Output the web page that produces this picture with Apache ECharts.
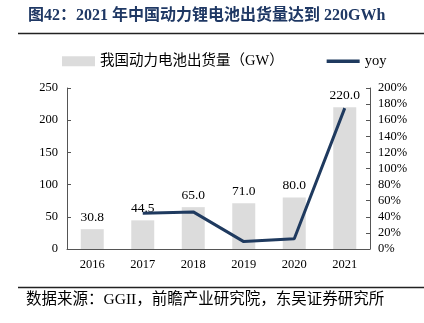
<!DOCTYPE html>
<html>
<head>
<meta charset="utf-8">
<script src="https://cdn.jsdelivr.net/npm/echarts@6/dist/echarts.min.js"></script>
<style>
  html, body { margin: 0; padding: 0; background: #fff; }
  #chart { width: 424px; height: 323px; }
</style>
</head>
<body>
<div id="chart"></div>
<script>
// Chinese power battery shipments (GW) and year-on-year growth
const years = ['2016', '2017', '2018', '2019', '2020', '2021'];
const shipments = [30.8, 44.5, 65.0, 71.0, 80.0, 220.0];
const yoy = [null, 44.5, 46.1, 9.2, 12.7, 175.0];
const leftTicks = { min: 0, max: 250, interval: 50 };
const rightTicks = { min: 0, max: 200, interval: 20 };

const serif = '"Liberation Serif", "Times New Roman", serif';
const cjk = '"Liberation Serif", "Noto Sans CJK SC", serif';
const navy = '#1f3a5f';

const chart = echarts.init(document.getElementById('chart'));
chart.setOption({
  animation: false,
  backgroundColor: '#fff',
  textStyle: { fontFamily: serif, color: '#000' },
  grid: { left: 67, right: 54, top: 88, bottom: 74 },
  legend: {
    top: 49,
    left: 57,
    itemGap: 43,
    itemWidth: 33,
    itemHeight: 10,
    textStyle: { fontFamily: cjk, fontSize: 14.5, color: '#000' },
    data: [
      { name: '我国动力电池出货量（GW）', icon: 'rect' },
      { name: 'yoy', icon: 'path://M0,0 L10,0 L10,1 L0,1 Z' }
    ]
  },
  xAxis: {
    type: 'category',
    data: years,
    axisLine: { lineStyle: { color: '#555', width: 1 } },
    axisTick: { inside: true, length: 4, lineStyle: { color: '#555' } },
    axisLabel: { fontFamily: serif, fontSize: 12.5, color: '#000', margin: 9 }
  },
  yAxis: [
    {
      type: 'value',
      min: leftTicks.min, max: leftTicks.max, interval: leftTicks.interval,
      axisLine: { show: true, lineStyle: { color: '#555' } },
      axisTick: { show: true, inside: true, length: 4, lineStyle: { color: '#555' } },
      splitLine: { show: false },
      axisLabel: { fontFamily: serif, fontSize: 12.5, color: '#000', margin: 9 }
    },
    {
      type: 'value',
      min: rightTicks.min, max: rightTicks.max, interval: rightTicks.interval,
      position: 'right',
      axisLine: { show: true, lineStyle: { color: '#555' } },
      axisTick: { show: true, inside: true, length: 4, lineStyle: { color: '#555' } },
      splitLine: { show: false },
      axisLabel: { fontFamily: serif, fontSize: 12.5, color: '#000', margin: 8, formatter: '{value}%' }
    }
  ],
  series: [
    {
      name: '我国动力电池出货量（GW）',
      type: 'bar',
      data: shipments,
      barWidth: 23,
      itemStyle: { color: '#dcdcdc' },
      label: {
        show: true,
        position: 'top',
        distance: 5,
        fontFamily: serif,
        fontSize: 13.5,
        color: '#000',
        formatter: p => p.value.toFixed(1)
      }
    },
    {
      name: 'yoy',
      type: 'line',
      yAxisIndex: 1,
      data: yoy,
      symbol: 'none',
      lineStyle: { color: navy, width: 3 },
      itemStyle: { color: navy }
    }
  ],
  graphic: [
    {
      type: 'text', left: 28, top: 8,
      style: {
        text: '图42：2021 年中国动力锂电池出货量达到 220GWh',
        font: 'bold 16px "Liberation Serif", "Noto Sans CJK SC", serif',
        fill: '#1f3864'
      }
    },
    {
      type: 'line',
      shape: { x1: 18, y1: 33.5, x2: 424, y2: 33.5 },
      style: { stroke: '#222', lineWidth: 1.5 }
    },
    {
      type: 'line',
      shape: { x1: 18, y1: 287.5, x2: 424, y2: 287.5 },
      style: { stroke: '#222', lineWidth: 1.5 }
    },
    {
      type: 'text', left: 26, top: 292,
      style: {
        text: '数据来源：GGII，前瞻产业研究院，东吴证券研究所',
        font: '15.5px "Liberation Serif", "Noto Sans CJK SC", serif',
        fill: '#000'
      }
    }
  ]
});
</script>
</body>
</html>
